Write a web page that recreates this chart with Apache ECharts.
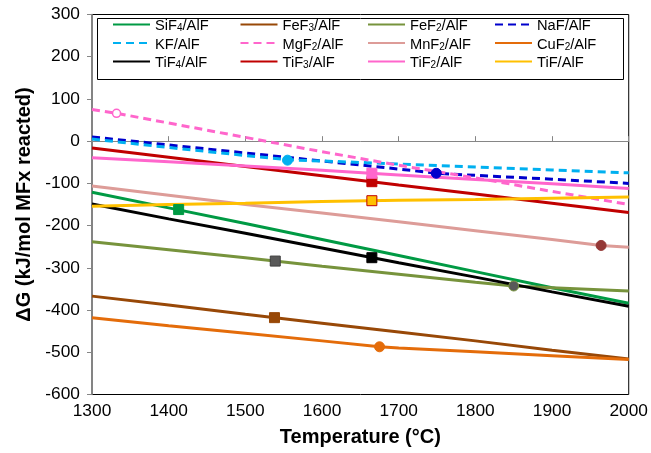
<!DOCTYPE html>
<html><head><meta charset="utf-8">
<script src="https://cdn.jsdelivr.net/npm/echarts@6/dist/echarts.min.js"></script>
<style>html,body{margin:0;padding:0;background:#fff}#c{width:651px;height:453px}</style>
</head><body><div id="c"></div>
<script>
// ---- data (Temperature °C, ΔG kJ/mol) ----
const SiF4 = [[1300,-121],[1400,-158],[1500,-195],[1600,-233],[1700,-271],[1800,-309],[1900,-347],[2000,-384]];
const FeF3 = [[1300,-367],[1400,-388],[1500,-410],[1600,-431],[1700,-452],[1800,-473],[1900,-495],[2000,-516]];
const FeF2 = [[1300,-238],[1400,-257],[1500,-276],[1600,-296],[1700,-315],[1800,-334],[1850,-343],[1900,-347],[2000,-355]];
const NaF  = [[1300,10],[1400,-9],[1500,-28],[1600,-47],[1700,-66],[1750,-76],[1800,-81],[1900,-90],[2000,-100]];
const KF   = [[1300,5],[1400,-15],[1500,-34],[1555,-44],[1600,-47],[1700,-54],[1800,-61],[1900,-68],[2000,-75]];
const MgF2 = [[1300,75],[1332,66],[1400,43],[1500,9],[1600,-25],[1700,-57],[1800,-87],[1900,-119],[2000,-150]];
const MnF2 = [[1300,-106],[1400,-128],[1500,-150],[1600,-170],[1700,-191],[1800,-212],[1900,-233],[1964,-247],[2000,-251]];
const CuF2 = [[1300,-418],[1400,-437],[1500,-455],[1600,-473],[1675,-487],[1700,-490],[1800,-499],[1900,-508],[2000,-517]];
const TiF4 = [[1300,-149],[1400,-184],[1500,-218],[1600,-253],[1700,-288],[1800,-322],[1900,-357],[2000,-391]];
const TiF3 = [[1300,-16],[1400,-38],[1500,-60],[1600,-82],[1700,-104],[1800,-125],[1900,-147],[2000,-169]];
const TiF2 = [[1300,-39],[1400,-49],[1500,-59],[1600,-69],[1700,-80],[1800,-91],[1900,-101],[2000,-112]];
const TiF  = [[1300,-154],[1400,-150],[1500,-147],[1600,-143],[1700,-140],[1800,-138],[1900,-135],[2000,-132]];

// highlighted points
const mkSiF4 = [[1413,-162]];
const mkFeF3 = [[1538,-418]];
const mkFeF2a = [[1539,-284]];
const mkFeF2b = [[1850,-343]];
const mkNaF = [[1749,-76]];
const mkKF = [[1555,-45]];
const mkMgF2 = [[1332,66]];
const mkMnF2 = [[1964,-247]];
const mkCuF2 = [[1675,-487]];
const mkTiF4 = [[1665,-276]];
const mkTiF3 = [[1665,-96]];
const mkTiF2 = [[1665,-76]];
const mkTiF = [[1665,-141]];

const seriesNames = ['SiF4/AlF','FeF3/AlF','FeF2/AlF','NaF/AlF','KF/AlF','MgF2/AlF','MnF2/AlF','CuF2/AlF','TiF4/AlF','TiF3/AlF','TiF2/AlF','TiF/AlF'];
const yTicks = [300,200,100,0,-100,-200,-300,-400,-500,-600];
const xTicks = [1300,1400,1500,1600,1700,1800,1900,2000];

// ---- styles ----
const lineSets = [SiF4,FeF3,FeF2,NaF,KF,MgF2,MnF2,CuF2,TiF4,TiF3,TiF2,TiF];
const lineColors = ['#009A44','#984807','#77933C','#0000CC','#00B0F0','#FF66CC','#DD9C98','#E46C0A','#000000','#C00000','#FF66CC','#FFC000'];
const lineDashed = [false,false,false,true,true,true,false,false,false,false,false,false];

const markerSets = [
  {d:mkSiF4, s:'rect', z:10, c:'#009A44', b:'#009A44'},
  {d:mkFeF3, s:'rect', z:10, c:'#984807', b:'#984807'},
  {d:mkFeF2a, s:'rect', z:10, c:'#595959', b:'#3f3f3f'},
  {d:mkFeF2b, s:'circle', z:10, c:'#595959', b:'#77933C'},
  {d:mkNaF, s:'circle', z:11, c:'#0000CC', b:'#0000CC'},
  {d:mkKF, s:'circle', z:11, c:'#00B0F0', b:'#00B0F0'},
  {d:mkMgF2, s:'circle', z:8, c:'#ffffff', b:'#FF66CC'},
  {d:mkMnF2, s:'circle', z:11, c:'#953735', b:'#953735'},
  {d:mkCuF2, s:'circle', z:11, c:'#E46C0A', b:'#E46C0A'},
  {d:mkTiF4, s:'rect', z:10, c:'#000000', b:'#000000'},
  {d:mkTiF3, s:'rect', z:10, c:'#C00000', b:'#C00000'},
  {d:mkTiF2, s:'rect', z:10, c:'#FF66CC', b:'#FF66CC'},
  {d:mkTiF, s:'rect', z:10, c:'#FFC000', b:'#C00000'}
];

const FONT = 'Liberation Sans, Arial, sans-serif';
function richName(n){
  const m = n.match(/^([A-Za-z]+)(\d?)(\/AlF)$/);
  if (!m) return n;
  return '{n|' + m[1] + '}' + (m[2] ? '{s|' + m[2] + '}' : '') + '{n|' + m[3] + '}';
}
const colX = [112, 239.5, 367, 494];
const legends = colX.map((x, c) => ({
  data: [seriesNames[c], seriesNames[c+4], seriesNames[c+8]],
  orient: 'vertical', left: x, top: 18.5, padding: 0,
  itemWidth: 37, itemHeight: 14, itemGap: 3.5,
  selectedMode: false,
  formatter: richName,
  itemStyle: {color: 'rgba(0,0,0,0)', borderColor: 'rgba(0,0,0,0)', borderWidth: 0, opacity: 0},
  textStyle: {
    color: '#000', fontFamily: FONT, fontSize: 14.67,
    rich: {
      n: {fontSize: 14.67, fontFamily: FONT, color: '#000', lineHeight: 18, verticalAlign: 'bottom'},
      s: {fontSize: 10, fontFamily: FONT, color: '#000', lineHeight: 12, verticalAlign: 'bottom'}
    }
  }
}));

const series = [];
lineSets.forEach((d, i) => {
  series.push({
    name: seriesNames[i], type: 'line', data: d, symbol: 'none', z: 2,
    lineStyle: {color: lineColors[i], width: 3, type: lineDashed[i] ? [8, 5] : 'solid'},
    itemStyle: {color: lineColors[i]},
    silent: true
  });
});
markerSets.forEach((m, i) => {
  series.push({
    name: 'mk' + i, type: 'scatter', data: m.d, symbol: m.s, symbolSize: m.s === 'rect' ? 10 : (m.c === '#ffffff' ? 8 : 10),
    z: m.z,
    itemStyle: {color: m.c, borderColor: m.b, borderWidth: m.c === '#ffffff' ? 1.5 : 1, opacity: 1},
    silent: true
  });
});

const chart = echarts.init(document.getElementById('c'), null, {renderer: 'canvas'});
chart.setOption({
  animation: false,
  backgroundColor: '#ffffff',
  grid: {left: 92, right: 21, top: 14.5, bottom: 58.5, show: true, borderColor: '#000', borderWidth: 1, backgroundColor: 'transparent'},
  legend: legends,
  graphic: [{
    type: 'rect', left: 97, top: 18, z: 0,
    shape: {width: 526, height: 61},
    style: {fill: '#fff', stroke: '#000', lineWidth: 1}
  }],
  xAxis: [{
    type: 'value', min: xTicks[0], max: xTicks[xTicks.length-1], interval: 100,
    name: 'Temperature (°C)', nameLocation: 'middle', nameGap: 33,
    nameTextStyle: {fontFamily: FONT, fontSize: 20, fontWeight: 'bold', color: '#000'},
    axisLine: {show: false, onZero: false},
    axisTick: {show: false},
    splitLine: {show: false},
    axisLabel: {fontFamily: FONT, fontSize: 17.33, color: '#000', margin: 8, formatter: v => String(v)}
  }, {
    type: 'value', min: xTicks[0], max: xTicks[xTicks.length-1], interval: 100, position: 'top',
    axisLine: {show: true, onZero: true, onZeroAxisIndex: 0, lineStyle: {color: '#868686', width: 1}},
    axisTick: {show: true, inside: false, length: 5, lineStyle: {color: '#868686'}},
    axisLabel: {show: false},
    splitLine: {show: false}
  }],
  yAxis: {
    type: 'value', min: yTicks[yTicks.length-1], max: yTicks[0], interval: 100,
    name: 'ΔG (kJ/mol MFx reacted)', nameLocation: 'middle', nameGap: 45,
    nameTextStyle: {fontFamily: FONT, fontSize: 20, fontWeight: 'bold', color: '#000'},
    axisLine: {show: true, lineStyle: {color: '#868686', width: 1.5}},
    axisTick: {show: true, length: 5, lineStyle: {color: '#868686'}},
    splitLine: {show: false},
    axisLabel: {fontFamily: FONT, fontSize: 17.33, color: '#000', margin: 12, formatter: v => String(v)}
  },
  series: series
});
</script>
</body></html>
